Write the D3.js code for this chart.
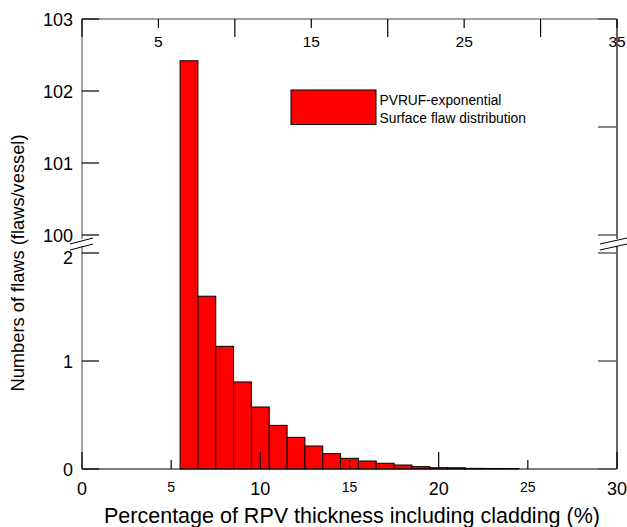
<!DOCTYPE html>
<html>
<head>
<meta charset="utf-8">
<script src="https://cdn.jsdelivr.net/npm/d3@7"></script>
<style>
  body { margin: 0; background: #fff; }
  text { font-family: "Liberation Sans", Arial, sans-serif; fill: #000; }
</style>
</head>
<body>
<svg width="627" height="527"></svg>
<script>
// histogram bins (left edge, % of wall) and flaws per vessel
var binStart = [5.5, 6.5, 7.5, 8.5, 9.5, 10.5, 11.5, 12.5, 13.5, 14.5, 15.5, 16.5, 17.5, 18.5, 19.5, 20.5, 21.5, 22.5, 23.5];
var flaws = [102.42, 1.60, 1.136, 0.806, 0.574, 0.404, 0.293, 0.213, 0.142, 0.099, 0.074, 0.053, 0.037, 0.022, 0.012, 0.011, 0.006, 0.005, 0.004];

var bottomTicks = [0, 5, 10, 15, 20, 25, 30];
var bottomMajor = [0, 10, 20, 30];
var topTicks = [0, 5, 10, 15, 20, 25, 30, 35];
var topLabeled = [5, 15, 25, 35];
var lowTicks = [0, 1, 2];
var highTicks = [100, 101, 102, 103];
var rightHighTicks = [100, 101.5, 103];

var legendLines = ["PVRUF-exponential", "Surface flaw distribution"];
var xTitle = "Percentage of RPV thickness including cladding (%)";
var yTitle = "Numbers of flaws (flaws/vessel)";

var svg = d3.select("svg");
// plot box (note: "top" is reserved by the window, so use mT)
var mL = 82, mR = 617, mT = 19, mB = 469;

var x = d3.scaleLinear().domain([0, 30]).range([mL, mR]);
var xTop = d3.scaleLinear().domain([0, 35]).range([mL, mR]);
var yLow = d3.scaleLinear().domain([0, 2]).range([mB, 253]);
var yHigh = d3.scaleLinear().domain([100, 103]).range([235, mT]);

function yVal(v) { return v > 2 ? yHigh(v) : yLow(v); }

// bars
svg.selectAll(".bar")
  .data(flaws)
  .enter().append("rect")
  .attr("class", "bar")
  .attr("x", function(d, i) { return x(binStart[i]); })
  .attr("width", function(d, i) { return x(binStart[i] + 1) - x(binStart[i]); })
  .attr("y", function(d) { return yVal(d); })
  .attr("height", function(d) { return yLow(0) - yVal(d); })
  .attr("fill", "#ff0000")
  .attr("stroke", "#000")
  .attr("stroke-width", 1);

// frame: top and bottom lines
svg.append("line").attr("x1", mL).attr("x2", mR).attr("y1", mT).attr("y2", mT)
  .attr("stroke", "#444").attr("stroke-width", 1.2);
svg.append("line").attr("x1", mL).attr("x2", mR).attr("y1", mB).attr("y2", mB)
  .attr("stroke", "#000").attr("stroke-width", 1.2);

// left and right lines, split at the break
[mL, mR].forEach(function(ax) {
  var col = ax == mL ? "#666" : "#000";
  svg.append("line").attr("x1", ax).attr("x2", ax).attr("y1", mT).attr("y2", 239)
    .attr("stroke", col).attr("stroke-width", 1.2);
  svg.append("line").attr("x1", ax).attr("x2", ax).attr("y1", 246).attr("y2", mB)
    .attr("stroke", col).attr("stroke-width", 1.2);
});

// break marks
var breaks = [{x0: mL - 12, x1: mL + 11}, {x0: mR - 17, x1: mR + 10}];
breaks.forEach(function(b) {
  [0, 6].forEach(function(off) {
    svg.append("line")
      .attr("x1", b.x0).attr("y1", 244 + off)
      .attr("x2", b.x1).attr("y2", 238 + off)
      .attr("stroke", "#000").attr("stroke-width", 1);
  });
});

// bottom ticks (pointing up) and labels
svg.selectAll(".bt").data(bottomTicks).enter().append("line")
  .attr("x1", function(d) { return x(d); }).attr("x2", function(d) { return x(d); })
  .attr("y1", mB)
  .attr("y2", function(d) { return bottomMajor.indexOf(d) >= 0 ? mB - 17 : mB - 9; })
  .attr("stroke", "#000").attr("stroke-width", 1.2);
svg.selectAll(".bl").data(bottomTicks).enter().append("text")
  .attr("x", function(d) { return x(d); })
  .attr("y", function(d) { return bottomMajor.indexOf(d) >= 0 ? 495 : 491.5; })
  .attr("text-anchor", "middle")
  .style("font-size", function(d) { return bottomMajor.indexOf(d) >= 0 ? "18px" : "14px"; })
  .text(function(d) { return d; });

// top ticks (pointing down) and labels
svg.selectAll(".tt").data(topTicks).enter().append("line")
  .attr("x1", function(d) { return xTop(d); }).attr("x2", function(d) { return xTop(d); })
  .attr("y1", mT)
  .attr("y2", function(d) { return topLabeled.indexOf(d) >= 0 ? mT + 9 : mT + 18; })
  .attr("stroke", "#000").attr("stroke-width", 1.2);
svg.selectAll(".tl").data(topLabeled).enter().append("text")
  .attr("x", function(d) { return xTop(d); })
  .attr("y", 46.5)
  .attr("text-anchor", "middle")
  .style("font-size", "15.5px")
  .text(function(d) { return d; });

// left ticks and labels
var leftTicks = highTicks.map(function(v) { return {y: yHigh(v), label: v, dy: 6.5}; })
  .concat(lowTicks.map(function(v) { return {y: yLow(v), label: v, dy: v == 2 ? 11 : 6.5}; }));
svg.selectAll(".lt").data(leftTicks).enter().append("line")
  .attr("x1", mL).attr("x2", mL + 17)
  .attr("y1", function(d) { return d.y; }).attr("y2", function(d) { return d.y; })
  .attr("stroke", "#000").attr("stroke-width", 1.2);
svg.selectAll(".ll").data(leftTicks).enter().append("text")
  .attr("x", 73)
  .attr("y", function(d) { return d.y + d.dy; })
  .attr("text-anchor", "end")
  .style("font-size", "18px")
  .text(function(d) { return d.label; });

// right ticks
var rightTicks = rightHighTicks.map(function(v) { return yHigh(v); })
  .concat(lowTicks.map(function(v) { return yLow(v); }));
svg.selectAll(".rt").data(rightTicks).enter().append("line")
  .attr("x1", mR - 19).attr("x2", mR)
  .attr("y1", function(d) { return d; }).attr("y2", function(d) { return d; })
  .attr("stroke", "#555").attr("stroke-width", 1.4);

// legend
svg.append("rect")
  .attr("x", 291).attr("y", 90).attr("width", 85).attr("height", 34.5)
  .attr("fill", "#ff0000").attr("stroke", "#000").attr("stroke-width", 1);
svg.selectAll(".lg").data(legendLines).enter().append("text")
  .attr("x", 379.5)
  .attr("y", function(d, i) { return 104.5 + i * 18.5; })
  .style("font-size", "13.8px")
  .text(function(d) { return d; });

// axis titles
svg.append("text")
  .attr("x", 352).attr("y", 523)
  .attr("text-anchor", "middle")
  .style("font-size", "21.5px")
  .text(xTitle);
svg.append("text")
  .attr("transform", "translate(24," + 263 + ") rotate(-90)")
  .attr("text-anchor", "middle")
  .style("font-size", "18.3px")
  .text(yTitle);
</script>
</body>
</html>
